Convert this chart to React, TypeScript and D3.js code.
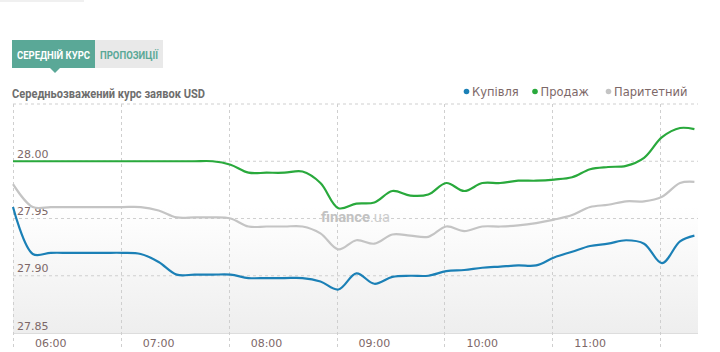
import React, { useEffect, useRef } from 'react';
import * as d3 from 'd3';

// time of each quote (HH:MM)
const times = [
  '05:39', '05:50', '06:00', '06:10', '06:20', '06:30', '06:40', '06:50',
  '07:00', '07:10', '07:20', '07:30', '07:40', '07:50', '08:00', '08:10',
  '08:20', '08:30', '08:40', '08:50', '09:00', '09:10', '09:20', '09:30',
  '09:40', '09:50', '10:00', '10:10', '10:20', '10:30', '10:40', '10:50',
  '11:00', '11:10', '11:20', '11:30', '11:40', '11:50', '11:58',
];

const buy = [
  27.960, 27.919, 27.920, 27.920, 27.920, 27.920, 27.920, 27.919,
  27.912, 27.901, 27.901, 27.901, 27.901, 27.898, 27.898, 27.898,
  27.898, 27.895, 27.888, 27.902, 27.893, 27.899, 27.900, 27.900,
  27.904, 27.905, 27.907, 27.908, 27.909, 27.909, 27.916, 27.921,
  27.926, 27.928, 27.931, 27.928, 27.911, 27.930, 27.935,
];

const sell = [
  28.000, 28.000, 28.000, 28.000, 28.000, 28.000, 28.000, 28.000,
  28.000, 28.000, 28.000, 28.000, 27.997, 27.990, 27.990, 27.990,
  27.991, 27.981, 27.959, 27.963, 27.964, 27.974, 27.970, 27.971,
  27.981, 27.974, 27.981, 27.981, 27.983, 27.983, 27.984, 27.986,
  27.993, 27.995, 27.996, 28.003, 28.021, 28.029, 28.028,
];

const parity = [
  27.980, 27.960, 27.960, 27.960, 27.960, 27.960, 27.960, 27.960,
  27.957, 27.951, 27.951, 27.951, 27.950, 27.943, 27.943, 27.943,
  27.943, 27.937, 27.923, 27.931, 27.928, 27.936, 27.935, 27.934,
  27.943, 27.939, 27.943, 27.943, 27.944, 27.946, 27.949, 27.953,
  27.960, 27.962, 27.965, 27.965, 27.969, 27.981, 27.982,
];

const seriesNames = ['Купівля', 'Продаж', 'Паритетний'];
const seriesColors = ['#1b80b6', '#29a93c', '#c4c4c4'];
const yTicks = [27.85, 27.9, 27.95, 28.0];
const hourLabels = ['06:00', '07:00', '08:00', '09:00', '10:00', '11:00'];

const toMin = (s: string) => {
  const [h, m] = s.split(':').map(Number);
  return h * 60 + m;
};

const App = () => {
  const svgRef = useRef<SVGSVGElement>(null);

  useEffect(() => {
    const svg = d3.select(svgRef.current);
    svg.selectAll('*').remove();

    const left = 13, right = 698, top = 104, bottom = 333;
    const x = d3.scaleLinear().domain([toMin('05:39'), toMin('12:00')]).range([left, right]);
    const y = d3.scaleLinear().domain([27.85, 28.05]).range([bottom, top]);

    // faint strip at the very top
    svg.append('rect').attr('x', 0).attr('y', 0).attr('width', 84).attr('height', 2).attr('fill', '#f0f0f0');

    // tabs
    svg.append('rect').attr('x', 95).attr('y', 40).attr('width', 68).attr('height', 28).attr('fill', '#e9e9e9');
    svg.append('rect').attr('x', 12).attr('y', 40).attr('width', 83).attr('height', 28).attr('fill', '#5aa897');
    svg.append('path').attr('d', 'M50,68 L60,68 L55,73 Z').attr('fill', '#5aa897');
    svg.append('text').attr('x', 17).attr('y', 58.5)
      .attr('font-family', 'Roboto, sans-serif').attr('font-weight', 'bold').attr('font-size', 11)
      .attr('textLength', 73).attr('lengthAdjust', 'spacingAndGlyphs')
      .attr('fill', '#ffffff').text('СЕРЕДНІЙ КУРС');
    svg.append('text').attr('x', 100).attr('y', 58.5)
      .attr('font-family', 'Roboto, sans-serif').attr('font-weight', 'bold').attr('font-size', 11)
      .attr('textLength', 58).attr('lengthAdjust', 'spacingAndGlyphs')
      .attr('fill', '#5aa897').text('ПРОПОЗИЦІЇ');

    // title
    svg.append('text').attr('x', 12).attr('y', 97.5)
      .attr('font-family', 'Roboto, sans-serif').attr('font-weight', 'bold').attr('font-size', 12.5)
      .attr('textLength', 193).attr('lengthAdjust', 'spacingAndGlyphs')
      .attr('fill', '#6e6e6e').text('Середньозважений курс заявок USD');

    // legend
    const legendX = [466.5, 535, 608.5];
    seriesNames.forEach((name, i) => {
      svg.append('circle').attr('cx', legendX[i]).attr('cy', 91.5).attr('r', 2.8).attr('fill', seriesColors[i]);
      svg.append('text').attr('x', legendX[i] + 5.5).attr('y', 95.5)
        .attr('font-family', 'DejaVu Sans, Verdana, sans-serif').attr('font-size', 11.5)
        .attr('fill', '#7d6868').text(name);
    });

    // plot background
    const defs = svg.append('defs');
    const grad = defs.append('linearGradient').attr('id', 'bg').attr('x1', 0).attr('y1', 0).attr('x2', 0).attr('y2', 1);
    grad.append('stop').attr('offset', '0%').attr('stop-color', '#ffffff');
    grad.append('stop').attr('offset', '45%').attr('stop-color', '#ffffff');
    grad.append('stop').attr('offset', '100%').attr('stop-color', '#eeeeee');
    svg.append('rect').attr('x', left).attr('y', top).attr('width', right - left).attr('height', bottom - top).attr('fill', 'url(#bg)');

    // horizontal grid
    const hLines = [28.05, 28.0, 27.95, 27.9];
    hLines.forEach(v => {
      svg.append('line').attr('x1', left).attr('x2', right).attr('y1', y(v)).attr('y2', y(v))
        .attr('stroke', '#cfcfcf').attr('stroke-dasharray', '3,3');
    });
    svg.append('line').attr('x1', left).attr('x2', right).attr('y1', bottom + 0.5).attr('y2', bottom + 0.5)
      .attr('stroke', '#dddddd');

    // vertical grid
    d3.range(0, 7).forEach(k => {
      const xv = Math.round(x(toMin('05:39') + k * 60)) + 0.5;
      svg.append('line').attr('x1', xv).attr('x2', xv).attr('y1', top).attr('y2', 347)
        .attr('stroke', '#cfcfcf').attr('stroke-dasharray', '3,3');
    });

    // y labels
    yTicks.forEach(v => {
      svg.append('text').attr('x', 17).attr('y', y(v) - 3.5)
        .attr('font-family', 'DejaVu Sans, Verdana, sans-serif').attr('font-size', 11)
        .attr('fill', '#7d6868').text(v.toFixed(2));
    });

    // x labels
    hourLabels.forEach(h => {
      svg.append('text').attr('x', x(toMin(h))).attr('y', 347)
        .attr('text-anchor', 'middle')
        .attr('font-family', 'DejaVu Sans, Verdana, sans-serif').attr('font-size', 11)
        .attr('fill', '#7d6868').text(h);
    });

    // watermark
    const wm = svg.append('text').attr('x', 321).attr('y', 221.5)
      .attr('font-family', 'Roboto, sans-serif').attr('font-size', 14.5).attr('fill', '#c2c2c2')
      .attr('textLength', 69).attr('lengthAdjust', 'spacingAndGlyphs');
    wm.append('tspan').attr('font-weight', 'bold').text('finance');
    wm.append('tspan').attr('fill', '#cdcdcd').text('.ua');

    // lines
    const all = [buy, sell, parity];
    const line = d3.line<number>()
      .x((d, i) => x(toMin(times[i])))
      .y(d => y(d))
      .curve(d3.curveCatmullRom.alpha(0.5));
    [2, 0, 1].forEach(i => {
      svg.append('path').datum(all[i])
        .attr('fill', 'none')
        .attr('stroke', seriesColors[i])
        .attr('stroke-width', 2.2)
        .attr('stroke-linejoin', 'round')
        .attr('d', line);
    });
  }, []);

  return (
    <svg ref={svgRef} width={720} height={352}
      style={{ position: 'absolute', left: 0, top: 0, background: '#fff' }} />
  );
};

export default App;
